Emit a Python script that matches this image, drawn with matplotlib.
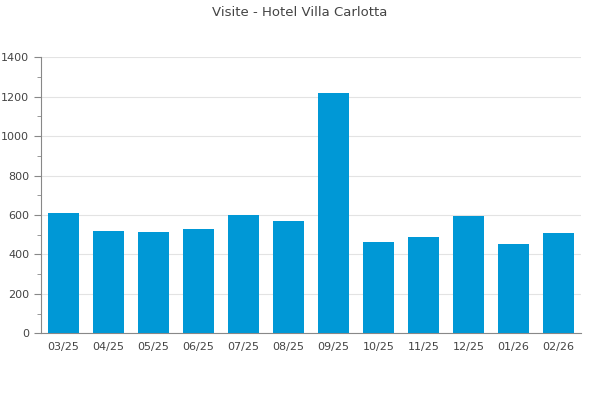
import matplotlib
matplotlib.use("Agg")
import matplotlib.pyplot as plt
from matplotlib.ticker import MultipleLocator

months = ["03/25", "04/25", "05/25", "06/25", "07/25", "08/25",
          "09/25", "10/25", "11/25", "12/25", "01/26", "02/26"]
visits = [610, 519, 514, 529, 600, 570, 1220, 463, 489, 595, 453, 508]

bar_color = "#0098d6"
text_color = "#444444"

fig = plt.figure(figsize=(6, 4), dpi=100)
ax = fig.add_axes([41 / 600, 1 - 333.3 / 400, 540 / 600, 276 / 400])

x = range(len(months))
ax.bar(x, visits, width=0.69, color=bar_color, zorder=3)

ax.set_xlim(-0.5, len(months) - 0.5)
ax.set_ylim(0, 1400)
ax.yaxis.set_major_locator(MultipleLocator(200))
ax.yaxis.set_minor_locator(MultipleLocator(100))
ax.set_xticks(list(x))
ax.set_xticklabels(months)

ax.grid(axis="y", color="#e3e3e3", linewidth=0.8, zorder=0)
for side in ("top", "right"):
    ax.spines[side].set_visible(False)
for side in ("left", "bottom"):
    ax.spines[side].set_color("#888888")
    ax.spines[side].set_linewidth(0.8)

ax.tick_params(axis="x", length=0, pad=6, labelsize=8, labelcolor=text_color)
ax.tick_params(axis="y", which="major", length=5, color="#888888",
               labelsize=8, labelcolor=text_color)
ax.tick_params(axis="y", which="minor", length=3, color="#888888")

fig.suptitle("Visite - Hotel Villa Carlotta", y=0.985, fontsize=9.5,
             color=text_color)

fig.savefig("out.png", dpi=100)
